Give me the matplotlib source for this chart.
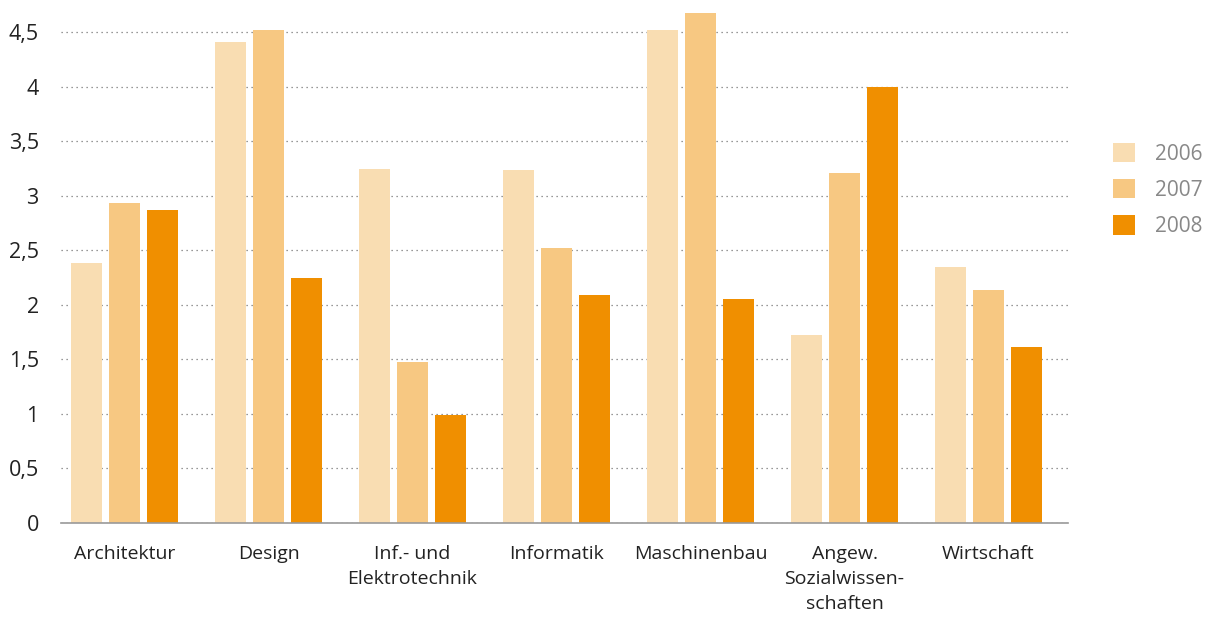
import matplotlib.pyplot as plt
import numpy as np

categories = ["Architektur", "Design", "Inf.- und\nElektrotechnik", "Informatik",
              "Maschinenbau", "Angew.\nSozialwissen-\nschaften", "Wirtschaft"]
years = ["2006", "2007", "2008"]
v2006 = [2.38, 4.41, 3.25, 3.24, 4.52, 1.72, 2.35]
v2007 = [2.93, 4.52, 1.48, 2.52, 4.68, 3.21, 2.14]
v2008 = [2.87, 2.25, 0.99, 2.09, 2.05, 4.00, 1.61]
yticks = [0, 0.5, 1, 1.5, 2, 2.5, 3, 3.5, 4, 4.5]
ytick_labels = ["0", "0,5", "1", "1,5", "2", "2,5", "3", "3,5", "4", "4,5"]

colors = ["#F9DDB2", "#F7C882", "#F08F00"]

plt.rcParams['font.family'] = ['Open Sans', 'DejaVu Sans']

fig = plt.figure(figsize=(12.07, 6.17), dpi=100)
ax = fig.add_axes([61/1207, 1-523/617, (1068-61)/1207, (523-5)/617])

x = np.arange(len(categories))
w = 0.215
offs = [-0.264, 0.0, 0.264]
for vals, off, c, lab in zip([v2006, v2007, v2008], offs, colors, years):
    ax.bar(x + off, vals, width=w, color=c, label=lab, zorder=2)

ax.set_xlim(-0.441, 6.552)
ax.set_ylim(0, 4.75)
ax.set_yticks(yticks)
ax.set_yticklabels(ytick_labels)
ax.set_xticks(x)
ax.set_xticklabels(categories, linespacing=1.5, va='top')
ax.tick_params(axis='y', length=0, pad=16, labelsize=15.5, labelcolor='#222222')
ax.tick_params(axis='x', length=0, pad=16, labelsize=14, labelcolor='#222222')

for s in ['top', 'right', 'left']:
    ax.spines[s].set_visible(False)
ax.spines['bottom'].set_color('#999999')
ax.spines['bottom'].set_linewidth(1.2)
ax.yaxis.grid(True, linestyle=(0, (1, 3)), color='#777777', linewidth=0.9, zorder=0)
ax.set_axisbelow(True)

leg = fig.legend(loc='upper left', bbox_to_anchor=(1094/1207, 1-124/617),
                 frameon=False, fontsize=15, handlelength=1.05, handleheight=1.05,
                 labelspacing=0.7, handletextpad=1.0)
for t in leg.get_texts():
    t.set_color('#888888')

plt.savefig('out.png', dpi=100)
